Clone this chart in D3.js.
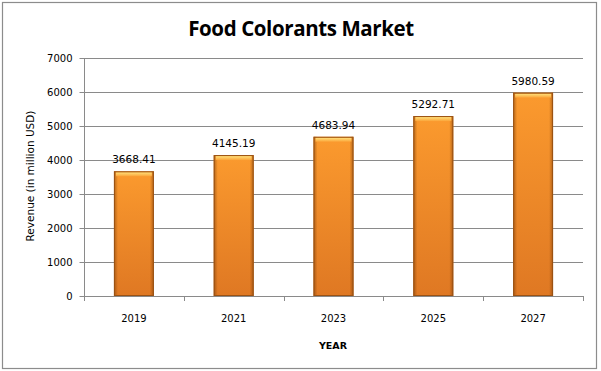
<!DOCTYPE html>
<html><head><meta charset="utf-8">
<script src="https://cdn.jsdelivr.net/npm/d3@7"></script>
<style>body{margin:0;background:#fff}svg{display:block}</style>
</head><body>
<script>
const categories = ["2019","2021","2023","2025","2027"];
const values = [3668.41, 4145.19, 4683.94, 5292.71, 5980.59];
const valueLabels = ["3668.41","4145.19","4683.94","5292.71","5980.59"];
const yTicks = [0,1000,2000,3000,4000,5000,6000,7000];
const titleText = "Food Colorants Market";
const yTitle = "Revenue (in million USD)";
const xTitle = "YEAR";

(function(){
const W=601,H=371;
const svg=d3.select("body").append("svg").attr("width",W).attr("height",H);
const defs=svg.append("defs");
const gv=defs.append("linearGradient").attr("id","gv").attr("x1",0).attr("y1",0).attr("x2",0).attr("y2",1);
gv.append("stop").attr("offset","0%").attr("stop-color","#FB9A2E");
gv.append("stop").attr("offset","100%").attr("stop-color","#DF7823");
const gh=defs.append("linearGradient").attr("id","gh").attr("x1",0).attr("y1",0).attr("x2",1).attr("y2",0);
gh.append("stop").attr("offset","0%").attr("stop-color","#7a3c08").attr("stop-opacity",0.55);
gh.append("stop").attr("offset","10%").attr("stop-color","#7a3c08").attr("stop-opacity",0);
gh.append("stop").attr("offset","90%").attr("stop-color","#7a3c08").attr("stop-opacity",0);
gh.append("stop").attr("offset","100%").attr("stop-color","#7a3c08").attr("stop-opacity",0.55);
const gt=defs.append("linearGradient").attr("id","gt").attr("x1",0).attr("y1",0).attr("x2",0).attr("y2",1);
gt.append("stop").attr("offset","0%").attr("stop-color","#FFE07A");
gt.append("stop").attr("offset","100%").attr("stop-color","#FBA53A");

svg.append("rect").attr("x",2.5).attr("y",2.5).attr("width",594).attr("height",366)
  .attr("fill","#fff").attr("stroke","#8c8c8c").attr("stroke-width",1.2);

const pl=84,pr=583,pt=58,pb=296;
const x=d3.scaleBand().domain(categories).range([pl,pr]).paddingInner(0.6).paddingOuter(0.3);
const y=d3.scaleLinear().domain([0,7000]).range([pb,pt]);

svg.append("g").selectAll("line").data(yTicks.filter(d=>d>0)).join("line")
  .attr("x1",pl).attr("x2",pr).attr("y1",d=>Math.round(y(d))+0.5).attr("y2",d=>Math.round(y(d))+0.5)
  .attr("stroke","#8a8a8a").attr("stroke-width",1);

const ya=svg.append("g").attr("transform",`translate(${pl+0.5},0)`)
  .call(d3.axisLeft(y).tickValues(yTicks).tickSize(5).tickPadding(7).tickFormat(d3.format("d")));
ya.select(".domain").attr("stroke","#8a8a8a").attr("d",`M0,${pt}V${pb}`);
ya.selectAll(".tick line").attr("stroke","#8a8a8a");
ya.selectAll("text").attr("font-family","DejaVu Sans").attr("font-size",10).attr("fill","#000");

const xa=svg.append("g").attr("transform",`translate(0,${pb+0.5})`)
  .call(d3.axisBottom(x).tickSize(0).tickPadding(18));
xa.select(".domain").attr("stroke","#8a8a8a").attr("d",`M${pl},0H${pr}`);
xa.selectAll("text").attr("font-family","DejaVu Sans").attr("font-size",10).attr("fill","#000");
const step=x.step();
const xt=categories.map(c=>x(c)+x.bandwidth()/2-step/2);
xt.push(x(categories[categories.length-1])+x.bandwidth()/2+step/2);
svg.append("g").selectAll("line").data(xt).join("line")
  .attr("x1",d=>Math.round(d)+0.5).attr("x2",d=>Math.round(d)+0.5).attr("y1",pb).attr("y2",pb+5)
  .attr("stroke","#8a8a8a");

const bars=svg.append("g").selectAll("g").data(values).join("g");
bars.append("rect").attr("x",(d,i)=>x(categories[i])).attr("y",d=>y(d)).attr("width",x.bandwidth()).attr("height",d=>pb-y(d))
  .attr("fill","url(#gv)");
bars.append("rect").attr("x",(d,i)=>x(categories[i])).attr("y",d=>y(d)).attr("width",x.bandwidth()).attr("height",d=>pb-y(d))
  .attr("fill","url(#gh)");
bars.append("rect").attr("x",(d,i)=>x(categories[i])+2).attr("y",d=>y(d)+1).attr("width",x.bandwidth()-4).attr("height",4)
  .attr("fill","url(#gt)");
bars.append("rect").attr("x",(d,i)=>x(categories[i])+0.5).attr("y",d=>y(d)+0.5).attr("width",x.bandwidth()-1).attr("height",d=>pb-y(d)-1)
  .attr("fill","none").attr("stroke","#9a5214").attr("stroke-width",1);

svg.append("g").selectAll("text").data(values).join("text")
  .attr("x",(d,i)=>x(categories[i])+x.bandwidth()/2).attr("y",d=>y(d)-8)
  .attr("text-anchor","middle").attr("font-family","DejaVu Sans").attr("font-size",10.5).attr("fill","#000")
  .text((d,i)=>valueLabels[i]);

svg.append("text").attr("x",301).attr("y",36).attr("text-anchor","middle")
  .attr("font-family","Open Sans").attr("font-weight","bold").attr("font-size",20.5).attr("letter-spacing","-0.4")
  .attr("fill","#000").text(titleText);
svg.append("text").attr("transform",`translate(34,176) rotate(-90)`).attr("text-anchor","middle")
  .attr("font-family","DejaVu Sans").attr("font-size",10.5).attr("fill","#000").text(yTitle);
svg.append("text").attr("x",333).attr("y",349).attr("text-anchor","middle")
  .attr("font-family","DejaVu Sans").attr("font-weight","bold").attr("font-size",9.5).attr("fill","#000").text(xTitle);
})();
</script>
</body></html>
